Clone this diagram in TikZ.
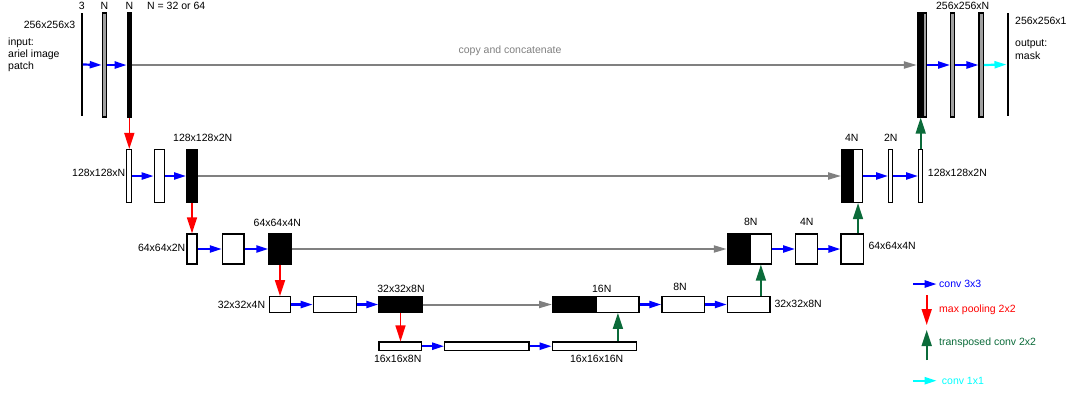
\documentclass[tikz,border=0pt]{standalone}
\usepackage{fontspec}
\setmainfont{Liberation Sans}
\usetikzlibrary{arrows.meta}
\definecolor{tgreen}{HTML}{0B6B3A}
\definecolor{cgray}{HTML}{808080}
\definecolor{ccyan}{HTML}{00FFFF}
\definecolor{lgray}{HTML}{A0A0A0}
\begin{document}
\begin{tikzpicture}[x=1pt,y=-1pt,
  lbl/.style={font=\fontsize{10.5}{12}\selectfont, inner sep=0pt},
  bx/.style 2 args={draw=black, line width=1.2pt, fill=white, inner sep=0pt, minimum width=#1, minimum height=#2},
  bk/.style 2 args={bx={#1}{#2}, fill=black},
  bg/.style 2 args={bx={#1}{#2}, fill=lgray},
  vline/.style={fill=black, inner sep=0pt, minimum width=2pt, minimum height=103pt},
  conv/.style={blue, line width=2.2pt, -{Triangle[length=12pt,width=7pt]}},
  convone/.style={ccyan, line width=2.2pt, -{Triangle[length=12pt,width=7pt]}},
  pool/.style={red, line width=1.6pt, -{Triangle[length=16pt,width=10pt]}},
  upc/.style={tgreen, line width=1.6pt, -{Triangle[length=16pt,width=10pt]}},
  copyc/.style={cgray, line width=2pt, -{Triangle[length=13pt,width=7pt]}}]
\useasboundingbox (0,0) rectangle (1070,394);

% ---- row 1
\node[vline] (in) at (81.7,64.5) {};
\node[bg={4.4pt}{104pt}] (n1) at (104.5,65) {};
\node[bk={4pt}{104pt}] (n2) at (129.3,65) {};
\node[bk={5.8pt}{104pt}] (c1b) at (920.4,65) {};
\node[bg={3.4pt}{104pt}] (c1w) at (925,65) {};
\node[bg={4pt}{104pt}] (o1) at (952.7,65) {};
\node[bg={4.3pt}{104pt}] (o2) at (981.2,65) {};
\node[vline] (out) at (1007.7,64.5) {};

% ---- row 2
\node[bx={5pt}{53pt}] (b1) at (129.2,176) {};
\node[bx={10pt}{53pt}] (b2) at (159.3,176) {};
\node[bk={10.6pt}{53pt}] (b3) at (192,176) {};
\node[bk={11.6pt}{53pt}] (c2b) at (847.5,176) {};
\node[bx={9.4pt}{53pt}] (c2w) at (858,176) {};
\node[bx={4pt}{53pt}] (u22) at (890.7,176) {};
\node[bx={4pt}{53pt}] (u23) at (920.7,176) {};

% ---- row 3
\node[bx={10pt}{30pt}] (d1) at (192,249) {};
\node[bx={21.7pt}{30pt}] (d2) at (233.2,249) {};
\node[bk={22pt}{30pt}] (d3) at (280,249) {};
\node[bk={22.7pt}{30pt}] (c3b) at (738.7,249) {};
\node[bx={21.7pt}{30pt}] (c3w) at (760.9,249) {};
\node[bx={21.6pt}{30pt}] (u32) at (806.5,249) {};
\node[bx={22.3pt}{30pt}] (u33) at (852.2,249) {};

% ---- row 4
\node[bx={21.4pt}{15.6pt}] (e1) at (280,304.5) {};
\node[bx={43pt}{15.6pt}] (e2) at (334.8,304.5) {};
\node[bk={43pt}{15.6pt}] (e3) at (400.5,304.5) {};
\node[bk={44pt}{15.6pt}] (c4b) at (574.7,304.5) {};
\node[bx={42.3pt}{15.6pt}] (c4w) at (617.9,304.5) {};
\node[bx={42.7pt}{15.6pt}] (u42) at (683.3,304.5) {};
\node[bx={42.7pt}{15.6pt}] (u43) at (748.7,304.5) {};

% ---- row 5
\node[bx={42.7pt}{8.3pt}] (f1) at (400.3,346.2) {};
\node[bx={84.3pt}{8.3pt}] (f2) at (486.9,346.2) {};
\node[bx={84pt}{8.3pt}] (f3) at (594.3,346.2) {};

% ---- conv 3x3 arrows
\draw[conv] (in.east) -- (n1.west);
\draw[conv] (n1.east) -- (n2.west);
\draw[conv] (c1w.east) -- (o1.west);
\draw[conv] (o1.east) -- (o2.west);
\draw[convone] (o2.east) -- (out.west);
\draw[conv] (b1.east) -- (b2.west);
\draw[conv] (b2.east) -- (b3.west);
\draw[conv] (c2w.east) -- (u22.west);
\draw[conv] (u22.east) -- (u23.west);
\draw[conv] (d1.east) -- (d2.west);
\draw[conv] (d2.east) -- (d3.west);
\draw[conv] (c3w.east) -- (u32.west);
\draw[conv] (u32.east) -- (u33.west);
\draw[conv] (e1.east) -- (e2.west);
\draw[conv] (e2.east) -- (e3.west);
\draw[conv] (c4w.east) -- (u42.west);
\draw[conv] (u42.east) -- (u43.west);
\draw[conv] (f1.east) -- (f2.west);
\draw[conv] (f2.east) -- (f3.west);

% ---- copy and concatenate
\draw[copyc] (n2.east) -- (c1b.west);
\draw[copyc] (b3.east) -- (c2b.west);
\draw[copyc] (d3.east) -- (c3b.west);
\draw[copyc] (e3.east) -- (c4b.west);

% ---- max pooling
\draw[pool] (n2.south) -- (n2.south |- b1.north);
\draw[pool] (b3.south) -- (b3.south |- d1.north);
\draw[pool] (d3.south) -- (d3.south |- e1.north);
\draw[pool] (e3.south) -- (e3.south |- f1.north);

% ---- transposed conv
\draw[upc] (u23.north) -- (u23.north |- c1b.south);
\draw[upc] (c2w.south |- u33.north) -- (c2w.south);
\draw[upc] (c3w.south |- u43.north) -- (c3w.south);
\draw[upc] (c4w.south |- f3.north) -- (c4w.south);

% ---- labels
\node[lbl] (t3) at (81.7,6) {3};
\node[lbl] (tn1) at (104.5,6) {N};
\node[lbl] (tn2) at (129.3,6) {N};
\node[lbl, anchor=west] (tnn) at (147,6) {N = 32 or 64};
\node[lbl] (t256a) at (49.5,25) {256x256x3};
\node[lbl, anchor=base west] (tin1) at (8,45.5) {input:};
\node[lbl, anchor=base west] (tin2) at (8,57.5) {ariel image};
\node[lbl, anchor=base west] (tin3) at (8,69.5) {patch};
\node[lbl, text=cgray, anchor=base] (tcopy) at (510,53.8) {copy and concatenate};
\node[lbl] (t256n) at (962.7,5.5) {256x256xN};
\node[lbl, anchor=west] (t2561) at (1015,20.7) {256x256x1};
\node[lbl, anchor=base west] (tout1) at (1015,46.5) {output:};
\node[lbl, anchor=base west] (tout2) at (1015,59.5) {mask};

\node[lbl, anchor=east] (l2a) at (125.5,172.5) {128x128xN};
\node[lbl] (l2b) at (202.7,138.3) {128x128x2N};
\node[lbl] (l2c) at (851.7,138) {4N};
\node[lbl] (l2d) at (890.7,138) {2N};
\node[lbl, anchor=west] (l2e) at (927.7,172.5) {128x128x2N};

\node[lbl, anchor=east] (l3a) at (185.5,248) {64x64x2N};
\node[lbl] (l3b) at (277.3,222.7) {64x64x4N};
\node[lbl] (l3c) at (750.7,222.3) {8N};
\node[lbl] (l3d) at (806.7,222.3) {4N};
\node[lbl, anchor=west] (l3e) at (868.3,245.7) {64x64x4N};

\node[lbl, anchor=east] (l4a) at (265.3,305) {32x32x4N};
\node[lbl] (l4b) at (401,289.3) {32x32x8N};
\node[lbl] (l4c) at (601.7,289) {16N};
\node[lbl] (l4d) at (680,286.7) {8N};
\node[lbl, anchor=west] (l4e) at (774.3,303.5) {32x32x8N};

\node[lbl] (l5a) at (397.7,359.3) {16x16x8N};
\node[lbl] (l5b) at (596.7,359.3) {16x16x16N};

% ---- legend
\coordinate (lg1a) at (913.3,284);
\coordinate (lg1b) at (936.7,284);
\coordinate (lg2a) at (926.7,295);
\coordinate (lg2b) at (926.7,325);
\coordinate (lg3a) at (926.7,360);
\coordinate (lg3b) at (926.7,330);
\coordinate (lg4a) at (913.3,380.7);
\coordinate (lg4b) at (936.7,380.7);
\draw[conv] (lg1a) -- (lg1b);
\draw[pool] (lg2a) -- (lg2b);
\draw[upc] (lg3a) -- (lg3b);
\draw[convone] (lg4a) -- (lg4b);
\node[lbl, text=blue, anchor=base west] (lt1) at (939,287.6) {conv 3x3};
\node[lbl, text=red, anchor=base west] (lt2) at (939,312) {max pooling 2x2};
\node[lbl, text=tgreen, anchor=base west] (lt3) at (939,345.5) {transposed conv 2x2};
\node[lbl, text=ccyan, anchor=base west] (lt4) at (941.7,384.5) {conv 1x1};
\end{tikzpicture}
\end{document}
